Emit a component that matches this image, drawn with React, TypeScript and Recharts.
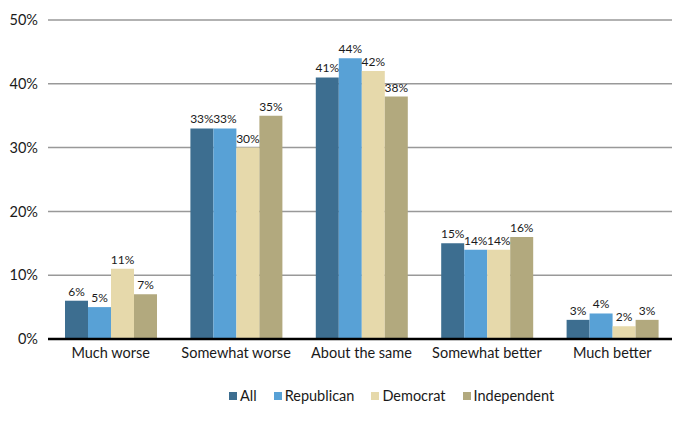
import { BarChart, Bar, XAxis, YAxis, CartesianGrid, Legend, LabelList } from "recharts";

const categories = ["Much worse", "Somewhat worse", "About the same", "Somewhat better", "Much better"];
const allValues = [6, 33, 41, 15, 3];
const republicanValues = [5, 33, 44, 14, 4];
const democratValues = [11, 30, 42, 14, 2];
const independentValues = [7, 35, 38, 16, 3];
const yTicks = [0, 10, 20, 30, 40, 50];

const data = categories.map((name, i) => ({
  name,
  All: allValues[i],
  Republican: republicanValues[i],
  Democrat: democratValues[i],
  Independent: independentValues[i],
}));

const series = [
  { key: "All", color: "#3d6e90" },
  { key: "Republican", color: "#58a1d6" },
  { key: "Democrat", color: "#e6d9ab" },
  { key: "Independent", color: "#b2a97e" },
];

const font = "Lato, 'Open Sans', sans-serif";

function LegendContent() {
  return (
    <div
      style={{
        height: 40,
        paddingTop: 13,
        paddingLeft: 229,
        boxSizing: "border-box",
        display: "flex",
        gap: 17,
        fontSize: 14.5,
        fontFamily: font,
        color: "#1a1a1a",
        lineHeight: "16px",
      }}
    >
      {series.map((s) => (
        <div key={s.key} style={{ display: "flex", alignItems: "center", gap: 3 }}>
          <span style={{ width: 8, height: 8, background: s.color, display: "inline-block" }} />
          <span>{s.key}</span>
        </div>
      ))}
    </div>
  );
}

export default function App() {
  return (
    <div style={{ margin: -8, width: 680, height: 424, background: "#fff", fontFamily: font }}>
      <BarChart
        width={680}
        height={424}
        data={data}
        margin={{ top: 20, right: 5, bottom: 15, left: 0 }}
        barCategoryGap={17}
        barGap={0}
      >
        <CartesianGrid vertical={false} stroke="#999999" strokeWidth={1.5} />
        <XAxis
          dataKey="name"
          axisLine={{ stroke: "#000", strokeWidth: 2.5 }}
          tickLine={false}
          tickSize={0}
          tickMargin={9}
          tick={{ fontSize: 14.5, fill: "#1a1a1a", fontFamily: font }}
          height={30}
        />
        <YAxis
          domain={[0, 50]}
          ticks={yTicks}
          tickFormatter={(v: number) => `${v}%`}
          axisLine={false}
          tickLine={false}
          tickSize={0}
          tickMargin={10}
          width={48}
          tick={{ fontSize: 14.5, fill: "#1a1a1a", fontFamily: font }}
        />
        <Legend verticalAlign="bottom" content={<LegendContent />} />
        {series.map((s) => (
          <Bar key={s.key} dataKey={s.key} fill={s.color} isAnimationActive={false}>
            <LabelList
              dataKey={s.key}
              position="top"
              offset={5}
              formatter={(v: number) => `${v}%`}
              style={{ fontSize: 12, fill: "#1a1a1a", fontFamily: font }}
            />
          </Bar>
        ))}
      </BarChart>
    </div>
  );
}
